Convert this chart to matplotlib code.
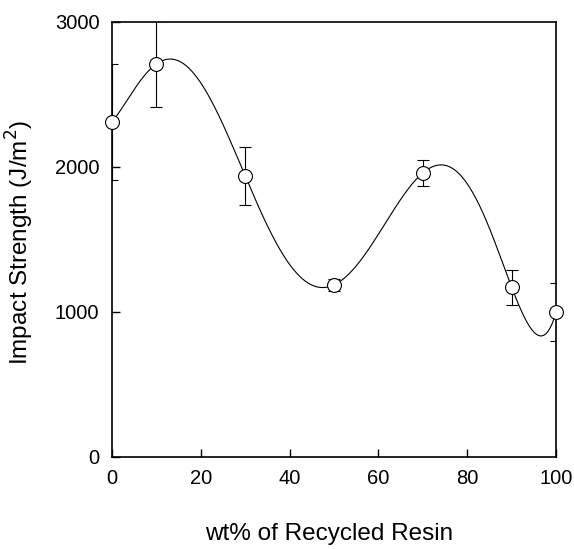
import numpy as np
import matplotlib
matplotlib.use('Agg')
import matplotlib.pyplot as plt

# wt% of recycled resin vs impact strength (J/m^2)
wt_pct = [0, 10, 30, 50, 70, 90, 100]
impact = [2310, 2710, 1938, 1186, 1959, 1168, 1000]
impact_err = [400, 300, 200, 40, 90, 120, 200]

plt.rcParams['font.family'] = ['Liberation Sans', 'DejaVu Sans']

fig = plt.figure(figsize=(5.74, 5.49), dpi=100)
ax = fig.add_axes([0.195, 0.168, 0.774, 0.792])

# smooth curve: polynomial through the measured points
coef = np.polyfit(wt_pct, impact, len(wt_pct) - 1)
xs = np.linspace(0, 100, 400)
ax.plot(xs, np.polyval(coef, xs), color='black', lw=0.8, zorder=2)

ax.errorbar(wt_pct, impact, yerr=impact_err, fmt='none', ecolor='black',
            elinewidth=0.8, capsize=4, capthick=0.8, zorder=2)
ax.plot(wt_pct, impact, 'o', ms=10, mfc='white', mec='black', mew=0.8,
        zorder=3, clip_on=False)

ax.set_xlim(0, 100)
ax.set_ylim(0, 3000)
ax.set_xticks([0, 20, 40, 60, 80, 100])
ax.set_yticks([0, 1000, 2000, 3000])
ax.tick_params(direction='in', length=6, width=1, labelsize=14.5, pad=9)
for s in ax.spines.values():
    s.set_linewidth(1.2)

ax.set_xlabel('wt% of Recycled Resin', fontsize=17.5)
ax.xaxis.set_label_coords(0.489, -0.152)
ax.set_ylabel('Impact Strength (J/m$^2$)', fontsize=17.5)
ax.yaxis.set_label_coords(-0.17, 0.494)

plt.savefig('out.png', dpi=100)
